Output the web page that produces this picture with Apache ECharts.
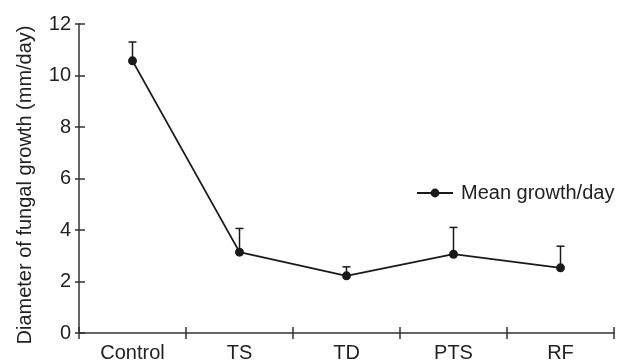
<!DOCTYPE html>
<html>
<head>
<meta charset="utf-8">
<script src="https://cdn.jsdelivr.net/npm/echarts@6/dist/echarts.min.js"></script>
<style>
html,body{margin:0;padding:0;background:#fff;}
#chart{width:626px;height:363px;}
</style>
</head>
<body>
<div id="chart"></div>
<script>
const categories = ['Control', 'TS', 'TD', 'PTS', 'RF'];
const meanGrowth = [10.57, 3.14, 2.22, 3.06, 2.53];
const errorSD = [0.73, 0.92, 0.35, 1.04, 0.84];
const yTicks = { min: 0, max: 12, interval: 2 };
const seriesName = 'Mean growth/day';
const yTitle = 'Diameter of fungal growth (mm/day)';

const FONT = "'Liberation Sans', Arial, sans-serif";
const INK = '#1a1a1a';
const TXT = '#222';
const AXIS = '#333';

const chart = echarts.init(document.getElementById('chart'), null, { renderer: 'canvas' });

const errData = categories.map((c, i) => [i, meanGrowth[i], meanGrowth[i] + errorSD[i]]);

chart.setOption({
  animation: false,
  backgroundColor: '#fff',
  grid: { left: 79, right: 12, top: 24, bottom: 30, containLabel: false },
  graphic: [{
    type: 'text',
    x: 25, y: 185,
    rotation: Math.PI / 2,
    style: {
      text: yTitle,
      font: '20px ' + FONT,
      fill: TXT,
      align: 'center',
      verticalAlign: 'middle'
    }
  }],
  legend: {
    left: 416, top: 183,
    padding: 0,
    itemWidth: 36, itemHeight: 11,
    itemGap: 0,
    textStyle: { fontFamily: FONT, fontSize: 20, color: TXT, padding: [0, 0, 0, 3] },
    data: [seriesName]
  },
  xAxis: [{
    type: 'category',
    data: categories,
    position: 'bottom',
    boundaryGap: true,
    axisLine: { show: true, lineStyle: { color: AXIS, width: 1.5 } },
    axisTick: { show: true, inside: false, length: 6, lineStyle: { color: AXIS, width: 1.5 } },
    axisLabel: { fontFamily: FONT, fontSize: 20, color: TXT, margin: 10 },
    splitLine: { show: false }
  }, {
    type: 'category',
    data: categories,
    position: 'bottom',
    boundaryGap: true,
    axisLine: { show: false },
    axisTick: { show: true, inside: true, length: 6, lineStyle: { color: AXIS, width: 1.5 } },
    axisLabel: { show: false },
    splitLine: { show: false }
  }],
  yAxis: [{
    type: 'value',
    min: yTicks.min, max: yTicks.max, interval: yTicks.interval,
    position: 'left',
    axisLine: { show: true, lineStyle: { color: AXIS, width: 1.5 } },
    axisTick: { show: true, inside: false, length: 4, lineStyle: { color: AXIS, width: 1.5 } },
    axisLabel: { fontFamily: FONT, fontSize: 20, color: TXT, margin: 8 },
    splitLine: { show: false }
  }, {
    type: 'value',
    min: yTicks.min, max: yTicks.max, interval: yTicks.interval,
    position: 'left',
    axisLine: { show: false },
    axisTick: { show: true, inside: true, length: 6, lineStyle: { color: AXIS, width: 1.5 } },
    axisLabel: { show: false },
    splitLine: { show: false }
  }],
  series: [{
    type: 'custom',
    name: 'err',
    xAxisIndex: 0, yAxisIndex: 0,
    data: errData,
    z: 1,
    renderItem: function (params, api) {
      const x = api.value(0);
      const lo = api.coord([x, api.value(1)]);
      const hi = api.coord([x, api.value(2)]);
      const cap = 4;
      const st = { stroke: INK, lineWidth: 1.5 };
      return {
        type: 'group',
        children: [
          { type: 'line', shape: { x1: lo[0], y1: lo[1], x2: hi[0], y2: hi[1] }, style: st },
          { type: 'line', shape: { x1: hi[0] - cap, y1: hi[1], x2: hi[0] + cap, y2: hi[1] }, style: st }
        ]
      };
    }
  }, {
    type: 'line',
    name: seriesName,
    xAxisIndex: 0, yAxisIndex: 0,
    data: meanGrowth,
    z: 3,
    symbol: 'circle',
    symbolSize: 9,
    lineStyle: { color: INK, width: 1.8 },
    itemStyle: { color: INK },
    emphasis: { disabled: true }
  }]
});
</script>
</body>
</html>
